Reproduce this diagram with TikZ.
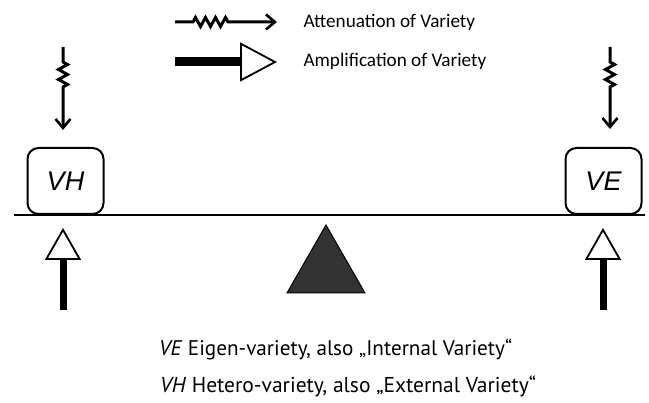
\documentclass[tikz,border=0pt]{standalone}
\usepackage{fontspec}
\setmainfont{Carlito}
\newfontfamily\boxfont{Liberation Sans}
\newfontfamily\notefont{PT Sans}
\usetikzlibrary{arrows.meta,decorations.pathmorphing,calc}

\begin{document}
\begin{tikzpicture}[
			x=1pt, y=-1pt,
			varbox/.style={
				draw,
				line width=2pt,
				rounded corners=11pt,
				minimum width=76pt,
				minimum height=66pt,
				inner sep=0pt,
				font=\boxfont\itshape\fontsize{27}{30}\selectfont
			},
			attarrow/.style={
				line width=3pt,
				-{Straight Barb[length=9pt, width=15pt, line width=2.6pt]},
				decoration={zigzag, amplitude=4.5pt, segment length=10pt,
					pre length=#1, post length=40pt},
				decorate
			},
			attarrow/.default=15pt,
			amparrow/.style={
				line width=7pt,
				-{Triangle[open, length=32pt, width=36pt, line width=1.8pt]}
			},
			legend/.style={anchor=base west, font=\fontsize{19.2}{22}\selectfont},
			note/.style={anchor=base west, inner sep=0pt, font=\notefont}
			]

			\useasboundingbox (0,0) rectangle (649,403);

			% Beam
			\coordinate (beamL) at (14,215);
			\coordinate (beamR) at (645,215);
			\draw[line width=2pt] (beamL) -- (beamR);

			% Boxes on the beam
			\node[varbox, anchor=south] (vh) at (65.5,215) {VH};
			\node[varbox, anchor=south] (ve) at (603.5,215) {VE};

			% Attenuators from above
			\coordinate (attL) at (63,47);
			\coordinate (attR) at (610,47);
			\draw[attarrow] (attL) -- ($(attL)+(0,83)$);
			\draw[attarrow] (attR) -- ($(attR)+(0,82)$);

			% Amplifiers from below
			\coordinate (ampL) at (63,310);
			\coordinate (ampR) at (603,310);
			\draw[amparrow] (ampL) -- ($(ampL)+(0,-82)$);
			\draw[amparrow] (ampR) -- ($(ampR)+(0,-82)$);

			% Fulcrum
			\filldraw[fill=black!80, line width=1pt]
			(326,225) -- (365,293) -- (287,293) -- cycle;

			% Legend
			\coordinate (la) at (175,22);
			\coordinate (lb) at (175,62);
			\draw[attarrow=18pt, decoration={post length=45pt}] (la) -- ($(la)+(102,0)$);
			\draw[amparrow, line width=9pt,
				-{Triangle[open, length=37pt, width=39pt, line width=1.8pt]}]
			(lb) -- ($(lb)+(102,0)$);
			\node[legend] (latt) at (300,28) {Attenuation of Variety};
			\node[legend] (lamp) at (300,67) {Amplification of Variety};

			% Notes
			\node[note] (nve) at (159,356)
			{\resizebox{353pt}{!}{\textit{VE} Eigen-variety, also „Internal Variety“}};
			\node[note] (nvh) at (160,393)
			{\resizebox{376pt}{!}{\textit{VH} Hetero-variety, also „External Variety“}};

		\end{tikzpicture}
\end{document}
